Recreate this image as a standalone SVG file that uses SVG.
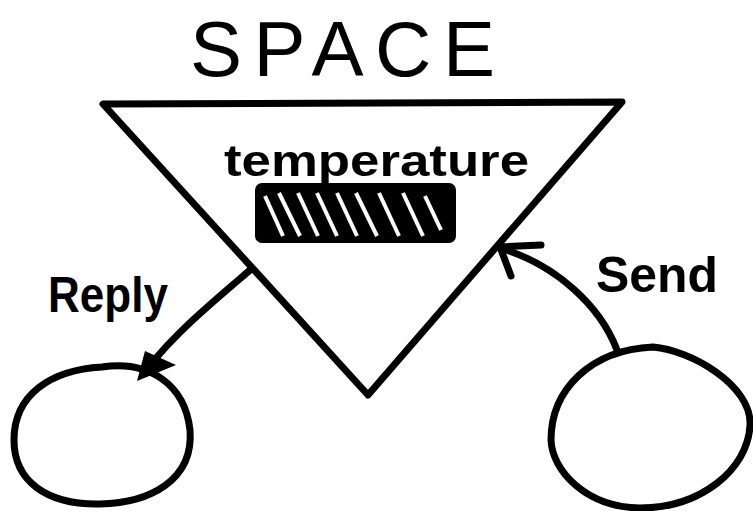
<svg xmlns="http://www.w3.org/2000/svg" width="753" height="511" viewBox="0 0 753 511">
<style>
.ln{fill:none;stroke:#000;stroke-width:7;stroke-linecap:round;stroke-linejoin:round}
.hand{font-family:"Liberation Sans","DejaVu Sans",sans-serif;fill:#000}
.stripe{stroke:#fff;stroke-width:4;stroke-linecap:butt}
</style>
<rect width="753" height="511" fill="#fff"/>
<text class="hand" x="190" y="76" font-size="78" textLength="305" lengthAdjust="spacing">SPACE</text>
<g id="space">
<path class="ln" d="M103,104 L622,102 L368,395 Z"/>
<text class="hand" x="224" y="176" font-size="44" font-weight="bold" textLength="305" lengthAdjust="spacingAndGlyphs">temperature</text>
<g id="thermometer">
<rect x="259" y="187" width="193" height="52" rx="3" fill="#000" stroke="#000" stroke-width="8"/>
<g class="stripe">
<line x1="265" y1="196" x2="283" y2="236"/>
<line x1="279" y1="193" x2="300" y2="236"/>
<line x1="298" y1="193" x2="318" y2="236"/>
<line x1="317" y1="193" x2="337" y2="236"/>
<line x1="337" y1="193" x2="357" y2="236"/>
<line x1="356" y1="193" x2="377" y2="236"/>
<line x1="379" y1="193" x2="399" y2="236"/>
<line x1="403" y1="193" x2="423" y2="236"/>
<line x1="425" y1="196" x2="441" y2="230"/>
</g>
</g>
</g>
<g id="replier">
<path class="ln" d="M102,367 C150,360 185,385 190,430 C194,480 150,503 100,504 C45,505 14,480 14,440 C14,395 50,370 102,367 Z"/>
</g>
<g id="sender">
<path class="ln" d="M653,347 C690,350 752,385 750,425 C748,470 700,508 640,508 C585,507 552,470 551,440 C551,390 590,350 653,347 Z"/>
</g>
<g id="connectors">
<path class="ln" d="M249,271 C215,300 175,333 148,368"/>
<path d="M137,381 L145,351 L176,365 Z" fill="#000"/>
<path class="ln" d="M617,350 C600,305 555,265 503,249"/>
<path class="ln" d="M541,245 L500,247 L511,276"/>
<text class="hand" x="48" y="312" font-size="50" font-weight="bold" textLength="120" lengthAdjust="spacingAndGlyphs">Reply</text>
<text class="hand" x="596" y="292" font-size="50" font-weight="bold" textLength="122" lengthAdjust="spacingAndGlyphs">Send</text>
</g>
</svg>
